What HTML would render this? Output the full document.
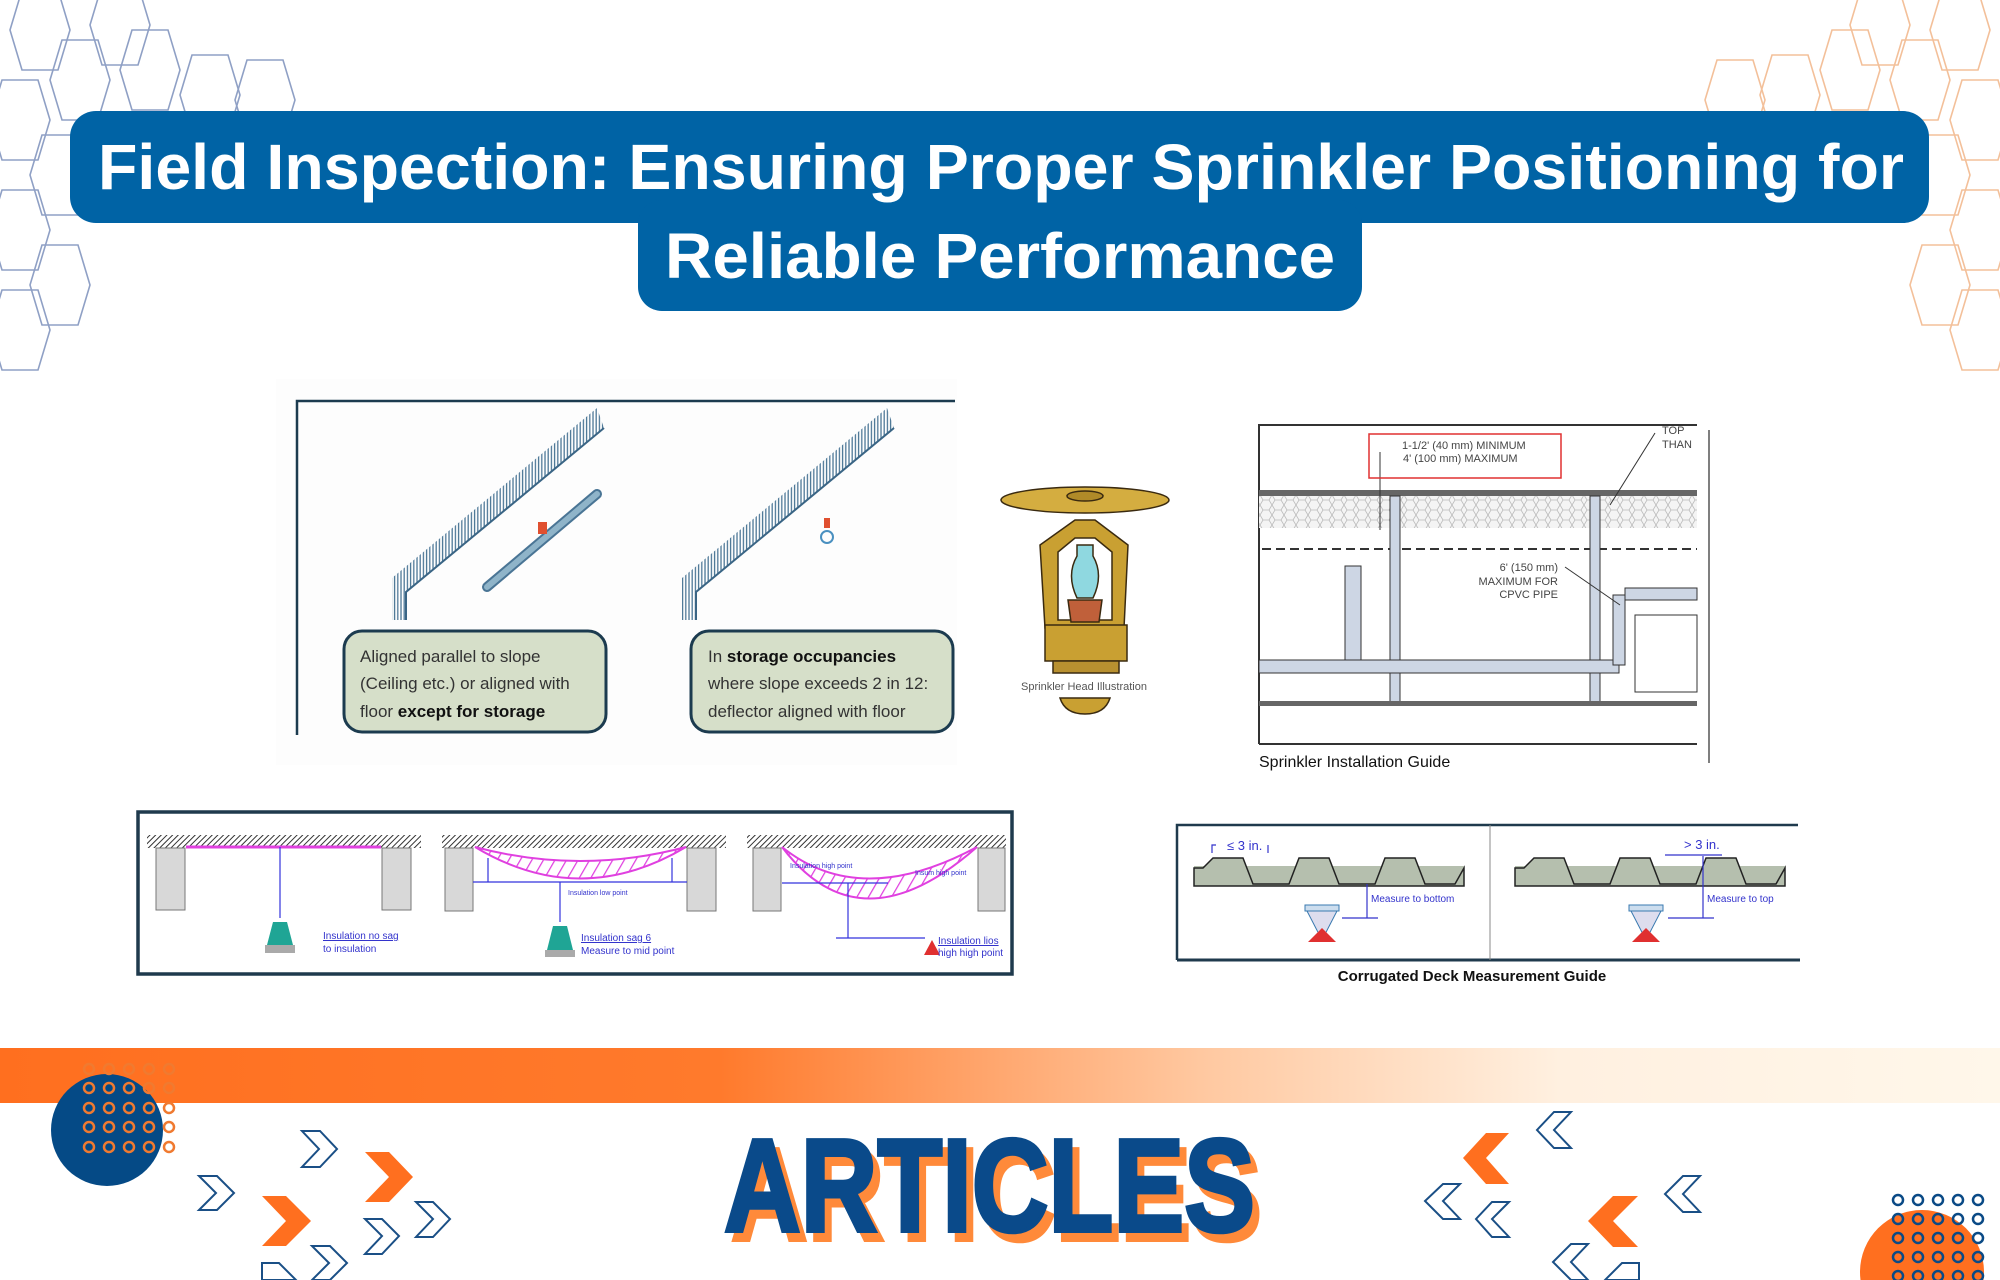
<!DOCTYPE html>
<html><head><meta charset="utf-8"><style>
html,body{margin:0;padding:0;background:#fff;}
svg{display:block;}
text{font-family:"Liberation Sans",sans-serif;}
</style></head><body>
<svg width="2000" height="1280" viewBox="0 0 2000 1280" xmlns="http://www.w3.org/2000/svg">
<defs>
<polygon id="hx" points="-30,0 -18,-40 18,-40 30,0 18,40 -18,40" fill="none" stroke-width="1.6"/>
<linearGradient id="band" x1="0" x2="1" y1="0" y2="0">
<stop offset="0" stop-color="#ff6f1f"/><stop offset="0.36" stop-color="#ff7a2c"/><stop offset="0.6" stop-color="#ffc8a0"/><stop offset="0.78" stop-color="#fff0e0"/><stop offset="1" stop-color="#fff7ea"/>
</linearGradient>
<pattern id="hatch" width="4" height="4" patternUnits="userSpaceOnUse" patternTransform="rotate(45)"><rect width="4" height="4" fill="#fff"/><line x1="0" y1="0" x2="0" y2="4" stroke="#333" stroke-width="2"/></pattern>
<pattern id="vh" width="3.2" height="10" patternUnits="userSpaceOnUse"><rect width="3.2" height="10" fill="#fff"/><line x1="1" y1="0" x2="1" y2="10" stroke="#4a7595" stroke-width="1.3"/></pattern>
<pattern id="hexp" width="12" height="10" patternUnits="userSpaceOnUse"><rect width="12" height="10" fill="#f4f4f4"/><polygon points="0,5 3,0 9,0 12,5 9,10 3,10" fill="none" stroke="#bbb" stroke-width="0.8"/></pattern>
<pattern id="mag" width="10" height="10" patternUnits="userSpaceOnUse" patternTransform="rotate(30)"><line x1="0" y1="0" x2="0" y2="10" stroke="#e040e0" stroke-width="2.5"/></pattern>
</defs>

<!-- hex decorations left -->
<g stroke="#8fa0c5">
<use href="#hx" x="40" y="30"/><use href="#hx" x="120" y="25"/><use href="#hx" x="150" y="70"/><use href="#hx" x="80" y="80"/>
<use href="#hx" x="265" y="100"/><use href="#hx" x="20" y="120"/><use href="#hx" x="60" y="175"/><use href="#hx" x="20" y="230"/>
<use href="#hx" x="60" y="285"/><use href="#hx" x="20" y="330"/><use href="#hx" x="210" y="95"/>
</g>
<g stroke="#f3c09a">
<use href="#hx" x="1960" y="30"/><use href="#hx" x="1880" y="25"/><use href="#hx" x="1850" y="70"/><use href="#hx" x="1920" y="80"/>
<use href="#hx" x="1735" y="100"/><use href="#hx" x="1980" y="120"/><use href="#hx" x="1940" y="175"/><use href="#hx" x="1980" y="230"/>
<use href="#hx" x="1940" y="285"/><use href="#hx" x="1980" y="330"/><use href="#hx" x="1790" y="95"/>
</g>

<!-- title -->
<rect x="70" y="111" width="1859" height="112" rx="26" fill="#0063a5"/>
<rect x="638" y="200" width="724" height="111" rx="24" fill="#0063a5"/>
<text x="98" y="189" font-size="64" font-weight="bold" fill="#fff" textLength="1806" lengthAdjust="spacingAndGlyphs">Field Inspection: Ensuring Proper Sprinkler Positioning for</text>
<text x="665" y="278" font-size="64" font-weight="bold" fill="#fff" textLength="670" lengthAdjust="spacingAndGlyphs">Reliable Performance</text>

<!-- diagram 1 -->
<rect x="276" y="379" width="681" height="386" fill="#fdfdfd"/>
<polyline points="297,735 297,401 955,401" fill="none" stroke="#1c3b4f" stroke-width="2.5"/>
<polygon points="392,620 392,578 597,408 604,428 406,592 406,620" fill="url(#vh)"/>
<polyline points="406,620 406,592 604,428" fill="none" stroke="#3a6585" stroke-width="2"/>
<polygon points="682,620 682,578 887,408 894,428 696,592 696,620" fill="url(#vh)"/>
<polyline points="696,620 696,592 894,428" fill="none" stroke="#3a6585" stroke-width="2"/>
<g fill="none">
<line x1="487" y1="587" x2="597" y2="494" stroke="#4a7595" stroke-width="10" stroke-linecap="round"/>
<line x1="487" y1="587" x2="597" y2="494" stroke="#8fb4c9" stroke-width="6" stroke-linecap="round"/>
</g>
<rect x="538" y="522" width="9" height="12" fill="#e05030"/>
<circle cx="827" cy="537" r="6" fill="none" stroke="#4a90c0" stroke-width="2"/>
<rect x="824" y="518" width="6" height="10" fill="#e05030"/>
<rect x="344" y="631" width="262" height="101" rx="18" fill="#d6dfc9" stroke="#1c3b4f" stroke-width="3"/>
<rect x="691" y="631" width="262" height="101" rx="18" fill="#d6dfc9" stroke="#1c3b4f" stroke-width="3"/>
<g font-size="17" fill="#333">
<text x="360" y="662">Aligned parallel to slope</text>
<text x="360" y="689">(Ceiling etc.) or aligned with</text>
<text x="360" y="717">floor <tspan font-weight="bold" fill="#111">except for storage</tspan></text>
<text x="708" y="662">In <tspan font-weight="bold" fill="#111">storage occupancies</tspan></text>
<text x="708" y="689">where slope exceeds 2 in 12:</text>
<text x="708" y="717">deflector aligned with floor</text>
</g>

<!-- sprinkler head -->
<g stroke="#3a2a10" stroke-width="1.5">
<path d="M1045,628 L1040,545 L1075,520 L1095,520 L1128,545 L1124,628 Z" fill="#c9a032"/>
<path d="M1058,620 L1058,552 L1075,538 L1095,538 L1112,552 L1112,620 Z" fill="#fff"/>
<ellipse cx="1085" cy="500" rx="84" ry="13" fill="#d4ad40"/>
<ellipse cx="1085" cy="496" rx="18" ry="5" fill="#b08a28"/>
<path d="M1077,545 L1093,545 L1093,556 Q1104,575 1093,598 L1077,598 Q1066,575 1077,556 Z" fill="#8fd8e0"/>
<path d="M1068,600 L1102,600 L1099,622 L1071,622 Z" fill="#c0603a"/>
<rect x="1045" y="625" width="82" height="36" fill="#c9a032"/>
<rect x="1053" y="661" width="66" height="12" fill="#b89030"/>
<path d="M1060,698 L1110,698 Q1105,714 1085,714 Q1065,714 1060,698 Z" fill="#c9a032"/>
</g>
<text x="1084" y="690" font-size="11" fill="#555" text-anchor="middle">Sprinkler Head Illustration</text>

<!-- right install diagram -->
<g>
<polyline points="1259,744 1259,425 1697,425" fill="none" stroke="#333" stroke-width="2"/>
<line x1="1709" y1="430" x2="1709" y2="763" stroke="#555" stroke-width="1.5"/>
<rect x="1259" y="490" width="438" height="6" fill="#666"/>
<rect x="1259" y="496" width="438" height="32" fill="url(#hexp)"/>
<line x1="1262" y1="549" x2="1697" y2="549" stroke="#333" stroke-width="2" stroke-dasharray="9 5"/>
<rect x="1390" y="496" width="10" height="207" fill="#cdd6e4" stroke="#333"/>
<rect x="1590" y="496" width="10" height="207" fill="#cdd6e4" stroke="#333"/>
<rect x="1259" y="660" width="360" height="13" fill="#cdd6e4" stroke="#333"/>
<rect x="1345" y="566" width="16" height="94" fill="#cdd6e4" stroke="#333"/>
<rect x="1613" y="595" width="12" height="70" fill="#cdd6e4" stroke="#333"/>
<rect x="1625" y="588" width="72" height="12" fill="#cdd6e4" stroke="#333"/>
<rect x="1635" y="615" width="62" height="77" fill="none" stroke="#333"/>
<rect x="1259" y="701" width="438" height="5" fill="#666"/>
<line x1="1259" y1="744" x2="1697" y2="744" stroke="#333" stroke-width="2"/>
<polyline points="1380,452 1380,530" fill="none" stroke="#333"/>
<line x1="1655" y1="433" x2="1610" y2="505" stroke="#333"/>
<rect x="1369" y="434" width="192" height="44" fill="none" stroke="#e03030" stroke-width="1.5"/>
<g font-family="Liberation Mono,monospace" font-size="11" fill="#444">
<text x="1402" y="449">1-1/2' (40 mm) MINIMUM</text>
<text x="1403" y="462">4' (100 mm) MAXIMUM</text>
<text x="1558" y="571" text-anchor="end">6' (150 mm)</text>
<text x="1558" y="585" text-anchor="end">MAXIMUM FOR</text>
<text x="1558" y="598" text-anchor="end">CPVC PIPE</text>
<text x="1662" y="434">TOP</text>
<text x="1662" y="448">THAN</text>
</g>
<line x1="1565" y1="567" x2="1620" y2="605" stroke="#333"/>
<text x="1259" y="767" font-size="16" fill="#111">Sprinkler Installation Guide</text>
</g>

<!-- bottom-left insulation -->
<rect x="138" y="812" width="874" height="162" fill="#fff" stroke="#1f3a4d" stroke-width="3.5"/>
<g>
<rect x="147" y="835" width="274" height="13" fill="url(#hatch)"/>
<rect x="442" y="835" width="284" height="13" fill="url(#hatch)"/>
<rect x="747" y="835" width="259" height="13" fill="url(#hatch)"/>
<g fill="#d8d8d8" stroke="#777">
<rect x="156" y="848" width="29" height="62"/><rect x="382" y="848" width="29" height="62"/>
<rect x="445" y="848" width="28" height="63"/><rect x="687" y="848" width="29" height="63"/>
<rect x="753" y="848" width="28" height="63"/><rect x="978" y="848" width="27" height="63"/>
</g>
<line x1="186" y1="847" x2="381" y2="847" stroke="#e040e0" stroke-width="3"/>
<path d="M475,847 Q580,910 686,847 Q580,875 475,847 Z" fill="url(#mag)" stroke="#e040e0" stroke-width="2"/>
<path d="M782,847 Q860,950 977,847 Q860,910 782,847 Z" fill="url(#mag)" stroke="#e040e0" stroke-width="2"/>
<g stroke="#3333dd" stroke-width="1.2" fill="none">
<line x1="280" y1="847" x2="280" y2="918"/>
<line x1="473" y1="882" x2="687" y2="882"/><line x1="488" y1="858" x2="488" y2="882"/><line x1="672" y1="858" x2="672" y2="882"/>
<line x1="560" y1="882" x2="560" y2="922"/>
<line x1="782" y1="883" x2="888" y2="883"/><line x1="848" y1="883" x2="848" y2="938"/><line x1="836" y1="938" x2="925" y2="938"/>
</g>
<path d="M273,922 L287,922 L293,945 L267,945 Z" fill="#1fa595"/><rect x="265" y="945" width="30" height="8" fill="#aaa"/>
<path d="M553,926 L567,926 L573,950 L547,950 Z" fill="#1fa595"/><rect x="545" y="950" width="30" height="7" fill="#aaa"/>
<path d="M932,940 L924,955 L940,955 Z" fill="#e03030"/>
<g font-size="10" fill="#3333cc">
<text x="323" y="939" text-decoration="underline">Insulation no sag</text><text x="323" y="952">to insulation</text>
<text x="581" y="941" text-decoration="underline">Insulation sag 6</text><text x="581" y="954">Measure to mid point</text>
<text x="938" y="944" text-decoration="underline">Insulation lios</text><text x="938" y="956">high high point</text>
<text x="568" y="895" font-size="7">Insulation low point</text>
<text x="790" y="868" font-size="7">Insulation high point</text>
<text x="915" y="875" font-size="7">Insum high point</text>
</g>
</g>

<!-- bottom-right corrugated -->
<polyline points="1177,960 1177,825 1798,825" fill="none" stroke="#1f3a4d" stroke-width="2.5"/>
<line x1="1177" y1="960" x2="1800" y2="960" stroke="#1f3a4d" stroke-width="3"/>
<line x1="1490" y1="825" x2="1490" y2="960" stroke="#888"/>
<rect x="1194" y="866" width="270" height="19" fill="#b5bfae"/>
<rect x="1515" y="866" width="270" height="19" fill="#b5bfae"/>
<g fill="#b5bfae" stroke="#222" stroke-width="1.5">
<path d="M1194,868 L1203,868 L1213,858 L1243,858 L1253,884 L1289,884 L1299,858 L1329,858 L1339,884 L1375,884 L1385,858 L1415,858 L1425,884 L1455,884 L1464,868 L1464,886 L1194,886 Z"/>
<path d="M1515,868 L1524,868 L1534,858 L1564,858 L1574,884 L1610,884 L1620,858 L1650,858 L1660,884 L1696,884 L1706,858 L1736,858 L1746,884 L1776,884 L1785,868 L1785,886 L1515,886 Z"/>
</g>
<g>
<rect x="1305" y="905" width="34" height="6" fill="#cde" stroke="#3a7ab0"/>
<path d="M1307,911 L1337,911 L1322,940 Z" fill="#dde" stroke="#3a7ab0"/>
<path d="M1322,928 L1308,942 L1336,942 Z" fill="#e03030"/>
<rect x="1629" y="905" width="34" height="6" fill="#cde" stroke="#3a7ab0"/>
<path d="M1631,911 L1661,911 L1646,940 Z" fill="#dde" stroke="#3a7ab0"/>
<path d="M1646,928 L1632,942 L1660,942 Z" fill="#e03030"/>
</g>
<g stroke="#3333cc" stroke-width="1.2">
<line x1="1367" y1="884" x2="1367" y2="918"/><line x1="1342" y1="918" x2="1378" y2="918"/>
<line x1="1703" y1="856" x2="1703" y2="918"/><line x1="1668" y1="918" x2="1714" y2="918"/><line x1="1665" y1="855" x2="1722" y2="855"/>
<polyline points="1212,853 1212,845 1216,845" fill="none"/><line x1="1268" y1="845" x2="1268" y2="853"/>
</g>
<g font-size="10" fill="#3333cc">
<text x="1371" y="902">Measure to bottom</text>
<text x="1707" y="902">Measure to top</text>
<text x="1227" y="850" font-size="13">≤ 3 in.</text>
<text x="1684" y="849" font-size="13">&gt; 3 in.</text>
</g>
<text x="1472" y="981" font-size="15" font-weight="bold" fill="#111" text-anchor="middle">Corrugated Deck Measurement Guide</text>

<!-- orange band -->
<rect x="0" y="1048" width="2000" height="55" fill="url(#band)"/>

<!-- left circle + dots -->
<circle cx="107" cy="1130" r="56" fill="#054a86"/>
<g fill="none" stroke="#f07a30" stroke-width="2.5">
<circle cx="89" cy="1069" r="5"/><circle cx="109" cy="1069" r="5"/><circle cx="129" cy="1069" r="5"/><circle cx="149" cy="1069" r="5"/><circle cx="169" cy="1069" r="5"/>
<circle cx="89" cy="1088" r="5"/><circle cx="109" cy="1088" r="5"/><circle cx="129" cy="1088" r="5"/><circle cx="149" cy="1088" r="5"/><circle cx="169" cy="1088" r="5"/>
<circle cx="89" cy="1108" r="5"/><circle cx="109" cy="1108" r="5"/><circle cx="129" cy="1108" r="5"/><circle cx="149" cy="1108" r="5"/><circle cx="169" cy="1108" r="5"/>
<circle cx="89" cy="1127" r="5"/><circle cx="109" cy="1127" r="5"/><circle cx="129" cy="1127" r="5"/><circle cx="149" cy="1127" r="5"/><circle cx="169" cy="1127" r="5"/>
<circle cx="89" cy="1147" r="5"/><circle cx="109" cy="1147" r="5"/><circle cx="129" cy="1147" r="5"/><circle cx="149" cy="1147" r="5"/><circle cx="169" cy="1147" r="5"/>
</g>

<!-- right circle + dots -->
<circle cx="1922" cy="1272" r="62" fill="#ff6f1f"/>
<g fill="none" stroke="#0a4a86" stroke-width="2.5">
<circle cx="1898" cy="1200" r="5"/><circle cx="1918" cy="1200" r="5"/><circle cx="1938" cy="1200" r="5"/><circle cx="1958" cy="1200" r="5"/><circle cx="1978" cy="1200" r="5"/>
<circle cx="1898" cy="1219" r="5"/><circle cx="1918" cy="1219" r="5"/><circle cx="1938" cy="1219" r="5"/><circle cx="1958" cy="1219" r="5"/><circle cx="1978" cy="1219" r="5"/>
<circle cx="1898" cy="1238" r="5"/><circle cx="1918" cy="1238" r="5"/><circle cx="1938" cy="1238" r="5"/><circle cx="1958" cy="1238" r="5"/><circle cx="1978" cy="1238" r="5"/>
<circle cx="1898" cy="1257" r="5"/><circle cx="1918" cy="1257" r="5"/><circle cx="1938" cy="1257" r="5"/><circle cx="1958" cy="1257" r="5"/><circle cx="1978" cy="1257" r="5"/>
<circle cx="1898" cy="1276" r="5"/><circle cx="1918" cy="1276" r="5"/><circle cx="1938" cy="1276" r="5"/><circle cx="1958" cy="1276" r="5"/><circle cx="1978" cy="1276" r="5"/>
</g>

<!-- chevrons left -->
<g fill="#fff" stroke="#1a4f86" stroke-width="2">
<polygon points="302,1131 320,1131 337,1149 320,1167 302,1167 319,1149"/>
<polygon points="199,1176 217,1176 234,1193 217,1210 199,1210 216,1193"/>
<polygon points="416,1202 433,1202 450,1219 433,1237 416,1237 433,1219"/>
<polygon points="365,1219 382,1219 399,1236 382,1254 365,1254 382,1236"/>
<polygon points="312,1246 330,1246 347,1263 330,1280 312,1280 329,1263"/>
<polygon points="262,1263 279,1263 296,1280 262,1280"/>
</g>
<g fill="#ff6f1f">
<polygon points="365,1152 389,1152 413,1177 389,1202 365,1202 389,1177"/>
<polygon points="262,1196 286,1196 311,1221 286,1246 262,1246 286,1221"/>
</g>
<!-- chevrons right -->
<g fill="#fff" stroke="#1a4f86" stroke-width="2">
<polygon points="1571,1112 1554,1112 1537,1130 1554,1148 1571,1148 1554,1130"/>
<polygon points="1460,1184 1443,1184 1425,1201 1443,1219 1460,1219 1443,1201"/>
<polygon points="1509,1202 1492,1202 1476,1219 1492,1237 1509,1237 1492,1219"/>
<polygon points="1700,1176 1683,1176 1665,1194 1683,1212 1700,1212 1683,1194"/>
<polygon points="1588,1244 1571,1244 1553,1262 1571,1280 1588,1280 1571,1262"/>
<polygon points="1639,1263 1622,1263 1605,1280 1639,1280"/>
</g>
<g fill="#ff6f1f">
<polygon points="1509,1133 1486,1133 1463,1158 1486,1184 1509,1184 1486,1158"/>
<polygon points="1638,1196 1613,1196 1588,1221 1613,1247 1638,1247 1613,1221"/>
</g>

<!-- ARTICLES -->
<text x="731" y="1240" font-size="132" font-weight="bold" fill="#ff8a3a" stroke="#ff8a3a" stroke-width="4" textLength="531" lengthAdjust="spacingAndGlyphs">ARTICLES</text>
<text x="724" y="1231" font-size="132" font-weight="bold" fill="#0a4a8a" stroke="#0a4a8a" stroke-width="4" textLength="531" lengthAdjust="spacingAndGlyphs">ARTICLES</text>
</svg>
</body></html>
